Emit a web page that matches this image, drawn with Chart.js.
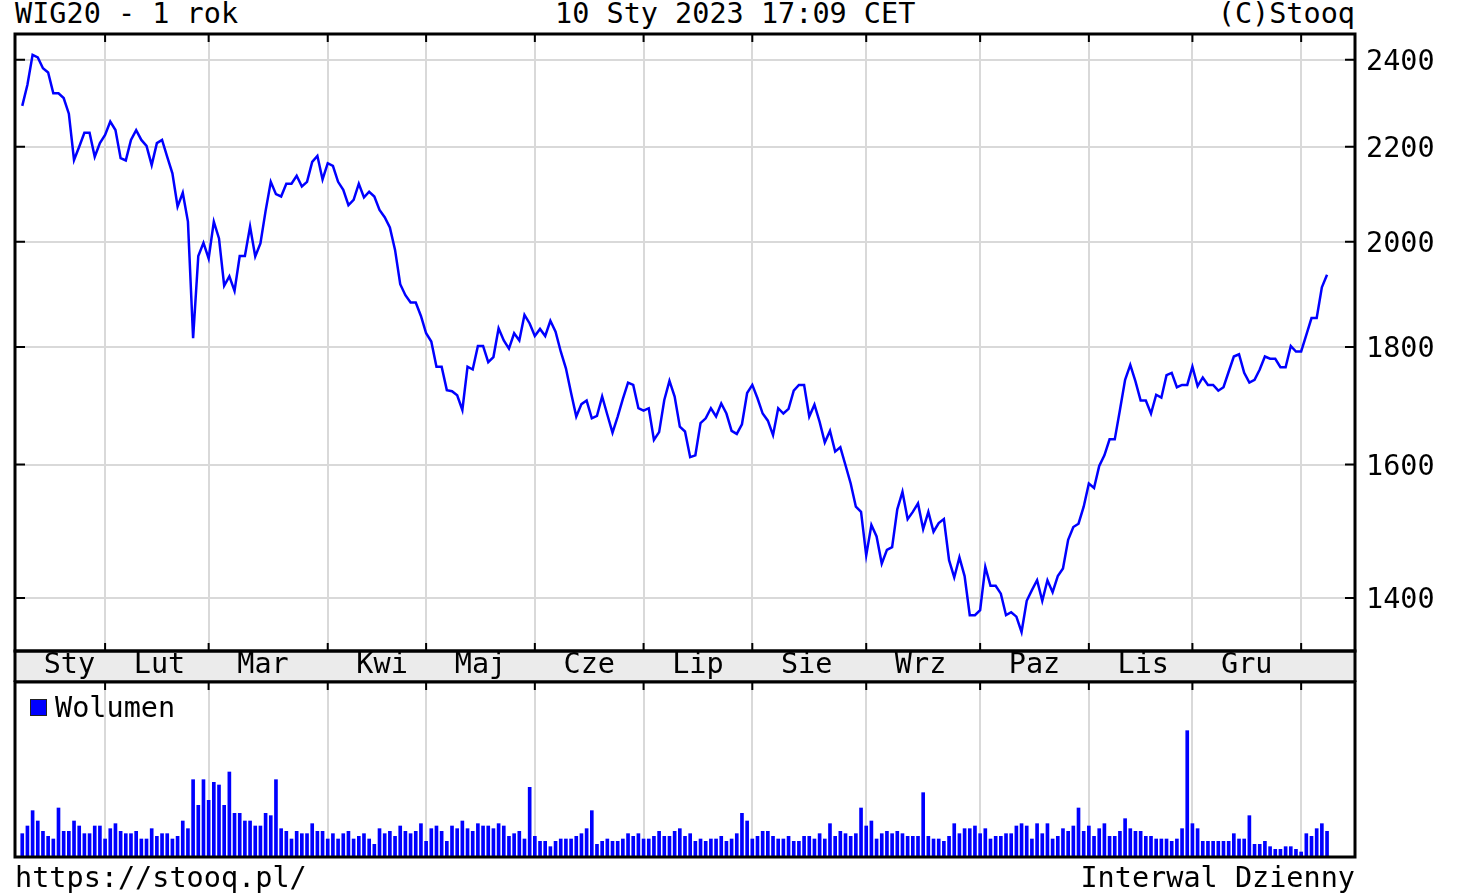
<!DOCTYPE html>
<html>
<head>
<meta charset="utf-8">
<script src="https://cdn.jsdelivr.net/npm/chart.js@4.4.1/dist/chart.umd.min.js"></script>
<style>
  body { margin: 0; background: #fff; width: 1469px; height: 893px; overflow: hidden; position: relative; }
  .t { position: absolute; font-family: 'DejaVu Sans Mono', monospace; font-size: 28.5px; line-height: 1; color: #000; white-space: pre; }
  canvas { position: absolute; left: 0; }
  .box { position: absolute; left: 30px; top: 699px; width: 15px; height: 15px; background: #0000ff; border: 1px solid #222; }
</style>
</head>
<body>
<div class="t" style="left:15px;top:0">WIG20 - 1 rok</div>
<div class="t" style="left:555px;top:0">10 Sty 2023 17:09 CET</div>
<div class="t" style="right:114px;top:0">(C)Stooq</div>
<canvas id="priceChart" width="1469" height="682" style="top:0"></canvas>
<canvas id="volChart" width="1469" height="217" style="top:676px"></canvas>
<div class="box"></div>
<div class="t" style="left:55px;top:694px">Wolumen</div>
<div class="t" style="left:15px;top:864px">https://stooq.pl/</div>
<div class="t" style="right:114px;top:864px">Interwal Dzienny</div>
<script>
// WIG20 daily closes, 10 Jan 2022 - 10 Jan 2023 (one value per session)
const closes = [
  2292, 2341, 2412, 2406, 2380, 2370, 2321, 2321, 2310, 2274,
  2171, 2200, 2231, 2231, 2178, 2208, 2226, 2256, 2237, 2175,
  2170, 2215, 2237, 2215, 2202, 2160, 2208, 2215, 2178, 2142,
  2072, 2101, 2041, 1816, 1972, 1998, 1967, 2041, 2007, 1914,
  1932, 1904, 1972, 1972, 2031, 1971, 1997, 2063, 2124, 2098,
  2093, 2120, 2120, 2137, 2114, 2124, 2167, 2180, 2129, 2164,
  2158, 2124, 2107, 2075, 2086, 2120, 2091, 2103, 2093, 2065,
  2050, 2029, 1984, 1917, 1896, 1882, 1882, 1857, 1825, 1810,
  1765, 1765, 1724, 1722, 1715, 1690, 1765, 1760, 1802, 1802,
  1773, 1782, 1834, 1812, 1797, 1825, 1812, 1859, 1843, 1820,
  1833, 1820, 1848, 1828, 1792, 1762, 1719, 1679, 1700, 1706,
  1676, 1680, 1713, 1682, 1652, 1679, 1709, 1737, 1733, 1693,
  1689, 1693, 1640, 1653, 1707, 1740, 1713, 1662, 1654, 1612,
  1615, 1668, 1676, 1693, 1679, 1701, 1684, 1655, 1650, 1666,
  1719, 1733, 1710, 1684, 1672, 1648, 1693, 1684, 1692, 1723,
  1733, 1733, 1679, 1699, 1670, 1636, 1655, 1621, 1628, 1599,
  1570, 1534, 1526, 1461, 1506, 1489, 1449, 1469, 1473, 1530,
  1557, 1515, 1526, 1539, 1500, 1526, 1496, 1509, 1515, 1454,
  1429, 1458, 1431, 1376, 1376, 1383, 1444, 1417, 1417, 1406,
  1376, 1380, 1374, 1353, 1396, 1411, 1425, 1396, 1425, 1408,
  1431, 1442, 1484, 1503, 1508, 1534, 1570, 1563, 1598, 1615,
  1641, 1641, 1690, 1742, 1768, 1739, 1706, 1706, 1684, 1716,
  1711, 1750, 1754, 1729, 1733, 1733, 1765, 1731, 1746, 1733,
  1733, 1723, 1729, 1756, 1783, 1787, 1754, 1737, 1742, 1760,
  1783, 1779, 1779, 1764, 1764, 1802, 1792, 1792, 1822, 1853,
  1853, 1911, 1935
];
// volume, relative units (axis has no labels)
const volumes = [
  70, 93, 139, 108, 77, 62, 54, 147, 77, 77,
  108, 93, 70, 70, 93, 93, 54, 85, 100, 77,
  70, 70, 77, 54, 54, 85, 62, 70, 70, 54,
  62, 108, 85, 232, 155, 232, 170, 224, 216, 155,
  255, 131, 131, 108, 108, 93, 93, 131, 124, 232,
  85, 77, 54, 77, 70, 70, 100, 77, 77, 54,
  70, 54, 70, 77, 54, 62, 70, 54, 38, 85,
  70, 77, 62, 93, 77, 70, 77, 100, 47, 85,
  93, 77, 47, 93, 85, 108, 85, 77, 100, 93,
  93, 85, 100, 93, 62, 70, 77, 54, 209, 62,
  47, 47, 31, 47, 54, 54, 54, 62, 70, 85,
  139, 38, 47, 54, 47, 47, 54, 70, 62, 70,
  54, 54, 62, 77, 62, 62, 77, 85, 62, 70,
  47, 54, 47, 54, 54, 62, 47, 54, 70, 131,
  108, 54, 62, 77, 77, 62, 54, 54, 62, 47,
  47, 62, 62, 54, 70, 54, 100, 62, 77, 70,
  62, 70, 147, 93, 108, 54, 70, 77, 70, 77,
  70, 62, 62, 62, 193, 62, 54, 54, 47, 62,
  100, 70, 85, 85, 93, 70, 85, 54, 62, 62,
  70, 70, 93, 100, 93, 54, 100, 70, 100, 54,
  62, 85, 77, 93, 147, 77, 93, 62, 85, 100,
  62, 62, 77, 115, 85, 77, 77, 62, 62, 54,
  54, 54, 47, 54, 85, 379, 100, 85, 47, 47,
  47, 47, 47, 47, 70, 54, 54, 124, 38, 38,
  47, 31, 23, 23, 31, 31, 23, 15, 70, 62,
  85, 100, 77
];
// session index of the first trading day of each month (Feb 2022 .. Jan 2023)
const monthStarts = [16, 36, 59, 78, 99, 120, 141, 163, 185, 206, 226, 247];
const monthNames = ["Sty", "Lut", "Mar", "Kwi", "Maj", "Cze", "Lip", "Sie", "Wrz", "Paz", "Lis", "Gru"];
const priceTicks = [1400, 1600, 1800, 2000, 2200, 2400];

const X_MIN = -1.4, X_MAX = 257.4;
const Y_MIN = 1327.5, Y_MAX = 2463;
const FONT = { family: "'DejaVu Sans Mono', monospace", size: 28.5, lineHeight: 1 };
const GRID = "#d9d9d9";

const labelPos = [X_MIN, ...monthStarts.slice(0, 11)].map(s => s + 10.5);

const framePlugin = {
  id: "frame",
  beforeDraw(chart, args, o) {
    if (!o.band) return;
    const { ctx, chartArea: a } = chart;
    ctx.save();
    ctx.fillStyle = "#ebebeb";
    ctx.fillRect(a.left, a.bottom, a.right - a.left, o.band);
    ctx.restore();
  },
  afterDraw(chart, args, o) {
    const { ctx, chartArea: a } = chart;
    ctx.save();
    ctx.strokeStyle = "#000";
    ctx.lineWidth = 2;
    const xs = chart.scales[o.gridAxis];
    xs.ticks.forEach(t => {
      const px = xs.getPixelForValue(t.value);
      ctx.beginPath();
      ctx.moveTo(px, a.top);
      ctx.lineTo(px, a.top + 8);
      if (o.bottomTicks) {
        ctx.moveTo(px, a.bottom);
        ctx.lineTo(px, a.bottom - 8);
      }
      ctx.stroke();
    });
    if (o.yTicks) {
      const ys = chart.scales.y;
      ys.ticks.forEach(t => {
        const py = ys.getPixelForValue(t.value);
        ctx.beginPath();
        ctx.moveTo(a.left, py);
        ctx.lineTo(a.left + 10, py);
        ctx.moveTo(a.right, py);
        ctx.lineTo(a.right - 10, py);
        ctx.stroke();
      });
    }
    ctx.lineWidth = 3;
    ctx.strokeRect(a.left, a.top, a.right - a.left, a.bottom - a.top);
    if (o.band) ctx.strokeRect(a.left, a.bottom, a.right - a.left, o.band);
    ctx.restore();
  }
};

const gridAxis = {
  type: "linear",
  min: X_MIN,
  max: X_MAX,
  position: "top",
  offset: false,
  afterBuildTicks: s => { s.ticks = monthStarts.map(v => ({ value: v })); },
  ticks: { display: false },
  grid: { color: GRID, lineWidth: 2, drawTicks: false, offset: false },
  border: { display: false },
  afterFit: s => { s.height = 0; }
};

const priceCtx = document.getElementById("priceChart").getContext("2d");
new Chart(priceCtx, {
  type: "line",
  data: {
    datasets: [
      {
        data: closes.map((v, i) => ({ x: i, y: v })),
        borderColor: "#0000ff",
        borderWidth: 2.5,
        pointRadius: 0,
        tension: 0,
        xAxisID: "x",
        yAxisID: "y",
      },
    ],
  },
  options: {
    responsive: false,
    animation: false,
    devicePixelRatio: 1,
    layout: { padding: { left: 15, right: 0, top: 34, bottom: 0 } },
    plugins: {
      legend: { display: false },
      tooltip: { enabled: false },
      frame: { gridAxis: "xg", bottomTicks: true, yTicks: true, band: 31 },
    },
    scales: {
      x: {
        type: "linear",
        min: X_MIN,
        max: X_MAX,
        position: "bottom",
        afterBuildTicks: s => { s.ticks = labelPos.map(v => ({ value: v })); },
        ticks: {
          callback: (v, i) => monthNames[i],
          font: FONT,
          color: "#000",
          maxRotation: 0,
          autoSkip: false,
          padding: -8,
        },
        grid: { display: false },
        border: { display: false },
        afterFit: s => { s.height = 31; },
      },
      xg: gridAxis,
      y: {
        type: "logarithmic",
        position: "right",
        min: Y_MIN,
        max: Y_MAX,
        afterBuildTicks: s => { s.ticks = priceTicks.map(v => ({ value: v })); },
        ticks: {
          callback: v => String(v),
          font: FONT,
          color: "#000",
          padding: 11,
          labelOffset: 3,
          autoSkip: false,
        },
        grid: { color: GRID, lineWidth: 2, drawTicks: false },
        border: { display: false },
        afterFit: s => { s.width = 114; },
      },
    },
  },
  plugins: [framePlugin],
});

const volCtx = document.getElementById("volChart").getContext("2d");
new Chart(volCtx, {
  type: "bar",
  data: {
    datasets: [
      {
        data: volumes.map((v, i) => ({ x: i, y: v })),
        backgroundColor: "#0000ff",
        barThickness: 3,
        borderWidth: 0,
      },
    ],
  },
  options: {
    responsive: false,
    animation: false,
    devicePixelRatio: 1,
    layout: { padding: { left: 15, right: 114, top: 6, bottom: 36 } },
    plugins: {
      legend: { display: false },
      tooltip: { enabled: false },
      frame: { gridAxis: "x", bottomTicks: false, yTicks: false, band: 0 },
    },
    scales: {
      x: Object.assign({}, gridAxis, { position: "bottom" }),
      y: { display: false, min: 0, max: 525 },
    },
  },
  plugins: [framePlugin],
});
</script>
</body>
</html>
